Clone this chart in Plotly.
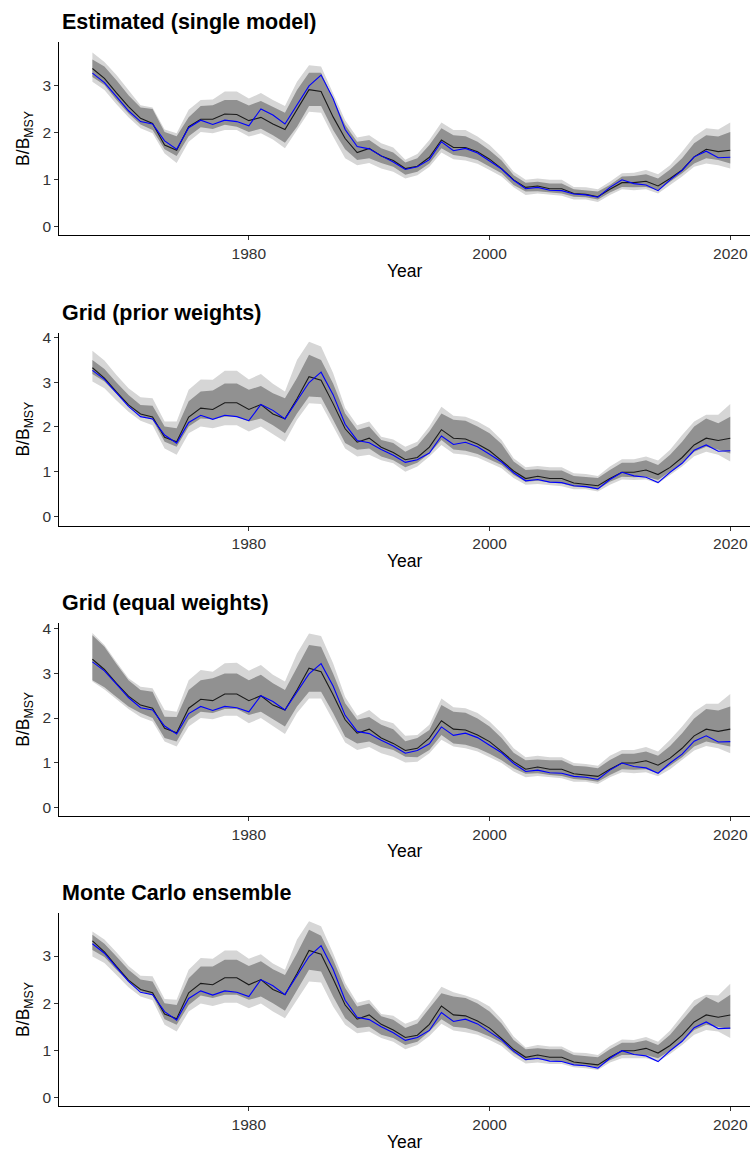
import plotly.graph_objects as go

years = list(range(1967, 2021))

# Blue line: estimated B/BMSY (same in every panel)
estimate = [3.26, 3.06, 2.76, 2.46, 2.23, 2.18, 1.82, 1.64, 2.10, 2.26, 2.17, 2.26, 2.23, 2.14, 2.50, 2.37, 2.18, 2.60, 2.99, 3.22,
            2.72, 2.06, 1.70, 1.65, 1.50, 1.37, 1.21, 1.27, 1.42, 1.80, 1.61, 1.66, 1.56, 1.39, 1.22, 0.98, 0.80, 0.83, 0.77, 0.76,
            0.69, 0.67, 0.62, 0.83, 0.99, 0.91, 0.88, 0.76, 0.99, 1.19, 1.48, 1.60, 1.46, 1.47]

# Panel 1: single model
single_median = [3.36, 3.15, 2.84, 2.55, 2.30, 2.19, 1.73, 1.62, 2.12, 2.28, 2.28, 2.39, 2.38, 2.25, 2.32, 2.18, 2.06, 2.49, 2.91, 2.87,
                 2.33, 1.87, 1.57, 1.66, 1.50, 1.40, 1.23, 1.28, 1.47, 1.84, 1.68, 1.68, 1.59, 1.43, 1.23, 0.99, 0.83, 0.86, 0.80, 0.80,
                 0.70, 0.68, 0.63, 0.79, 0.93, 0.93, 0.96, 0.86, 1.02, 1.20, 1.48, 1.64, 1.59, 1.62]
single_inner_hi = [3.55, 3.40, 3.11, 2.79, 2.53, 2.50, 2.01, 1.92, 2.32, 2.56, 2.58, 2.69, 2.69, 2.57, 2.67, 2.55, 2.42, 2.90, 3.27, 3.27,
                   2.72, 2.16, 1.80, 1.84, 1.66, 1.57, 1.36, 1.45, 1.73, 2.09, 1.94, 1.92, 1.80, 1.62, 1.40, 1.09, 0.93, 0.95, 0.91, 0.91,
                   0.79, 0.77, 0.74, 0.88, 1.06, 1.07, 1.11, 1.02, 1.21, 1.45, 1.77, 1.94, 1.91, 2.01]
single_inner_lo = [3.18, 3.01, 2.69, 2.40, 2.17, 2.05, 1.64, 1.50, 1.92, 2.11, 2.07, 2.16, 2.12, 2.01, 2.08, 1.94, 1.78, 2.12, 2.56, 2.56,
                   2.05, 1.64, 1.41, 1.45, 1.35, 1.27, 1.10, 1.16, 1.34, 1.66, 1.52, 1.48, 1.41, 1.27, 1.13, 0.88, 0.74, 0.75, 0.72, 0.70,
                   0.63, 0.62, 0.57, 0.72, 0.84, 0.83, 0.84, 0.77, 0.95, 1.13, 1.34, 1.45, 1.41, 1.34]
single_outer_hi = [3.70, 3.50, 3.22, 2.90, 2.58, 2.53, 2.06, 1.98, 2.48, 2.69, 2.70, 2.87, 2.87, 2.72, 2.84, 2.69, 2.56, 3.08, 3.43, 3.40,
                   2.83, 2.26, 1.89, 1.94, 1.77, 1.68, 1.42, 1.54, 1.84, 2.21, 2.05, 2.05, 1.91, 1.73, 1.48, 1.16, 0.99, 1.02, 0.99, 0.99,
                   0.84, 0.83, 0.79, 0.95, 1.13, 1.14, 1.20, 1.11, 1.30, 1.59, 1.91, 2.09, 2.06, 2.21]
single_outer_lo = [3.08, 2.90, 2.60, 2.32, 2.09, 1.98, 1.55, 1.35, 1.80, 2.01, 1.98, 2.05, 2.05, 1.91, 1.98, 1.85, 1.66, 2.05, 2.44, 2.42,
                   1.91, 1.45, 1.30, 1.35, 1.23, 1.16, 1.02, 1.09, 1.27, 1.57, 1.43, 1.40, 1.33, 1.20, 1.06, 0.83, 0.67, 0.70, 0.67, 0.65,
                   0.57, 0.57, 0.52, 0.67, 0.79, 0.77, 0.79, 0.70, 0.88, 1.06, 1.27, 1.34, 1.30, 1.23]

# Ensemble median (panels 2-4)
ensemble_median = [3.32, 3.09, 2.78, 2.49, 2.29, 2.22, 1.77, 1.67, 2.22, 2.42, 2.39, 2.54, 2.54, 2.39, 2.50, 2.29, 2.18, 2.63, 3.12, 3.04,
                   2.52, 1.96, 1.66, 1.75, 1.55, 1.43, 1.27, 1.32, 1.55, 1.94, 1.75, 1.73, 1.62, 1.47, 1.25, 1.02, 0.85, 0.90, 0.85, 0.85,
                   0.75, 0.72, 0.69, 0.85, 0.99, 0.99, 1.04, 0.94, 1.10, 1.32, 1.60, 1.75, 1.70, 1.75]

# Panel 2: grid, prior weights
prior_inner_hi = [3.49, 3.29, 2.99, 2.71, 2.49, 2.47, 2.01, 1.97, 2.57, 2.79, 2.81, 2.97, 2.97, 2.83, 2.91, 2.75, 2.64, 3.09, 3.61, 3.49,
                  2.97, 2.30, 1.93, 2.01, 1.71, 1.64, 1.45, 1.58, 1.90, 2.30, 2.16, 2.14, 2.01, 1.86, 1.62, 1.23, 1.04, 1.06, 1.03, 1.03,
                  0.91, 0.89, 0.86, 1.04, 1.20, 1.20, 1.26, 1.15, 1.38, 1.67, 2.01, 2.19, 2.08, 2.23]
prior_inner_lo = [3.18, 3.01, 2.74, 2.47, 2.25, 2.16, 1.67, 1.56, 2.01, 2.19, 2.17, 2.23, 2.23, 2.12, 2.19, 2.04, 1.86, 2.30, 2.68, 2.66,
                  2.16, 1.64, 1.49, 1.52, 1.34, 1.26, 1.10, 1.20, 1.41, 1.71, 1.50, 1.47, 1.40, 1.28, 1.15, 0.93, 0.78, 0.80, 0.76, 0.74,
                  0.67, 0.65, 0.61, 0.78, 0.89, 0.88, 0.89, 0.82, 1.00, 1.19, 1.45, 1.56, 1.49, 1.41]
prior_outer_hi = [3.70, 3.48, 3.16, 2.86, 2.66, 2.64, 2.12, 2.12, 2.83, 3.06, 3.05, 3.25, 3.25, 3.06, 3.18, 2.96, 2.79, 3.49, 3.90, 3.79,
                  3.20, 2.42, 2.04, 2.12, 1.78, 1.72, 1.56, 1.67, 2.01, 2.45, 2.25, 2.23, 2.12, 1.97, 1.71, 1.30, 1.10, 1.13, 1.10, 1.10,
                  0.97, 0.95, 0.91, 1.12, 1.28, 1.28, 1.34, 1.25, 1.49, 1.82, 2.12, 2.27, 2.27, 2.51]
prior_outer_lo = [3.01, 2.86, 2.59, 2.34, 2.14, 2.04, 1.52, 1.38, 1.86, 2.01, 1.97, 2.04, 2.04, 1.90, 2.01, 1.84, 1.67, 2.16, 2.53, 2.51,
                  2.01, 1.52, 1.34, 1.38, 1.26, 1.19, 1.00, 1.12, 1.34, 1.60, 1.41, 1.38, 1.32, 1.20, 1.08, 0.86, 0.71, 0.73, 0.71, 0.68,
                  0.61, 0.61, 0.56, 0.71, 0.83, 0.82, 0.83, 0.74, 0.93, 1.12, 1.35, 1.45, 1.38, 1.23]

# Panel 3: grid, equal weights
equal_inner_hi = [3.86, 3.60, 3.21, 2.85, 2.63, 2.59, 2.03, 2.02, 2.63, 2.85, 2.89, 3.00, 3.00, 2.85, 2.97, 2.78, 2.63, 3.15, 3.64, 3.60,
                  3.00, 2.33, 1.96, 2.02, 1.85, 1.75, 1.48, 1.55, 1.73, 2.29, 2.14, 2.12, 1.99, 1.81, 1.55, 1.22, 1.05, 1.07, 1.05, 1.05,
                  0.93, 0.91, 0.87, 1.06, 1.20, 1.20, 1.25, 1.15, 1.37, 1.66, 1.99, 2.20, 2.17, 2.26]
equal_inner_lo = [2.85, 2.69, 2.47, 2.26, 2.11, 2.00, 1.55, 1.47, 1.96, 2.14, 2.11, 2.20, 2.20, 2.07, 2.14, 1.97, 1.81, 2.26, 2.59, 2.59,
                  2.11, 1.58, 1.43, 1.47, 1.35, 1.28, 1.13, 1.12, 1.28, 1.62, 1.43, 1.40, 1.32, 1.20, 1.05, 0.87, 0.75, 0.76, 0.72, 0.70,
                  0.63, 0.61, 0.57, 0.72, 0.85, 0.84, 0.85, 0.76, 0.93, 1.12, 1.36, 1.47, 1.42, 1.36]
equal_outer_hi = [3.91, 3.64, 3.26, 2.89, 2.70, 2.67, 2.18, 2.14, 2.85, 3.08, 3.04, 3.23, 3.24, 3.06, 3.19, 2.97, 2.82, 3.45, 3.90, 3.84,
                  3.23, 2.47, 2.05, 2.18, 1.96, 1.88, 1.60, 1.62, 1.85, 2.44, 2.24, 2.22, 2.11, 1.92, 1.66, 1.32, 1.12, 1.15, 1.12, 1.12,
                  0.99, 0.97, 0.93, 1.15, 1.28, 1.28, 1.35, 1.25, 1.51, 1.81, 2.14, 2.32, 2.32, 2.54]
equal_outer_lo = [2.82, 2.64, 2.42, 2.20, 2.02, 1.92, 1.47, 1.36, 1.81, 2.00, 1.97, 2.05, 2.05, 1.88, 2.00, 1.81, 1.64, 2.11, 2.44, 2.44,
                  1.96, 1.45, 1.28, 1.35, 1.21, 1.13, 1.00, 1.02, 1.21, 1.51, 1.36, 1.32, 1.25, 1.12, 0.99, 0.80, 0.67, 0.70, 0.67, 0.65,
                  0.57, 0.57, 0.52, 0.67, 0.78, 0.76, 0.78, 0.69, 0.85, 1.05, 1.27, 1.37, 1.32, 1.21]

# Panel 4: Monte Carlo ensemble
mc_inner_hi = [3.45, 3.26, 2.99, 2.71, 2.50, 2.46, 2.00, 1.96, 2.53, 2.78, 2.78, 2.92, 2.92, 2.79, 2.89, 2.72, 2.60, 3.06, 3.56, 3.43,
               2.92, 2.32, 1.93, 1.99, 1.72, 1.65, 1.47, 1.57, 1.89, 2.21, 2.14, 2.11, 1.99, 1.82, 1.57, 1.22, 1.02, 1.04, 1.02, 1.02,
               0.90, 0.88, 0.85, 1.02, 1.16, 1.16, 1.21, 1.11, 1.33, 1.63, 1.93, 2.13, 2.01, 2.18]
mc_inner_lo = [3.13, 2.98, 2.71, 2.46, 2.25, 2.16, 1.66, 1.54, 1.96, 2.16, 2.11, 2.18, 2.18, 2.07, 2.14, 2.00, 1.84, 2.28, 2.71, 2.67,
               2.14, 1.68, 1.47, 1.50, 1.33, 1.26, 1.11, 1.18, 1.40, 1.66, 1.50, 1.47, 1.40, 1.29, 1.16, 0.94, 0.79, 0.81, 0.78, 0.76,
               0.69, 0.67, 0.64, 0.79, 0.90, 0.90, 0.90, 0.83, 0.99, 1.18, 1.43, 1.54, 1.50, 1.45]
mc_outer_hi = [3.52, 3.35, 3.08, 2.79, 2.58, 2.57, 2.09, 2.07, 2.71, 2.96, 2.94, 3.12, 3.12, 2.94, 3.04, 2.84, 2.71, 3.35, 3.74, 3.63,
               3.06, 2.43, 2.01, 2.07, 1.77, 1.73, 1.56, 1.66, 1.99, 2.35, 2.23, 2.16, 2.07, 1.93, 1.66, 1.29, 1.06, 1.11, 1.08, 1.08,
               0.95, 0.94, 0.90, 1.09, 1.23, 1.22, 1.28, 1.18, 1.42, 1.75, 2.06, 2.18, 2.16, 2.41]
mc_outer_lo = [2.99, 2.85, 2.60, 2.34, 2.14, 2.06, 1.54, 1.40, 1.82, 1.99, 1.94, 2.01, 2.01, 1.89, 1.99, 1.82, 1.68, 2.07, 2.46, 2.44,
               1.93, 1.54, 1.36, 1.40, 1.26, 1.18, 1.02, 1.11, 1.30, 1.56, 1.42, 1.38, 1.33, 1.22, 1.09, 0.87, 0.72, 0.74, 0.71, 0.71,
               0.64, 0.62, 0.58, 0.74, 0.83, 0.83, 0.83, 0.76, 0.92, 1.11, 1.33, 1.43, 1.40, 1.26]

panel_titles = ["Estimated (single model)", "Grid (prior weights)", "Grid (equal weights)", "Monte Carlo ensemble"]
x_ticks = [1980, 2000, 2020]

panels = [
    (single_median, single_inner_lo, single_inner_hi, single_outer_lo, single_outer_hi),
    (ensemble_median, prior_inner_lo, prior_inner_hi, prior_outer_lo, prior_outer_hi),
    (ensemble_median, equal_inner_lo, equal_inner_hi, equal_outer_lo, equal_outer_hi),
    (ensemble_median, mc_inner_lo, mc_inner_hi, mc_outer_lo, mc_outer_hi),
]

# layout (pixels)
W, H = 750, 1154
X_LEFT = 59.3
panel_px = [(41.7, 235.3), (332.7, 525.7), (622.7, 816.0), (912.7, 1106.3)]
y_ranges = [(-0.19, 3.93), (-0.20, 4.10), (-0.20, 4.14), (-0.19, 3.92)]
y_tickvals = [[0, 1, 2, 3], [0, 1, 2, 3, 4], [0, 1, 2, 3, 4], [0, 1, 2, 3]]

LIGHT = "#d6d6d6"
DARK = "#919191"
FONT = "Liberation Sans, Arial, Helvetica, sans-serif"
TICK_COL = "#333333"

fig = go.Figure()
layout = dict(
    width=W, height=H, margin=dict(l=0, r=0, t=0, b=0, autoexpand=False),
    paper_bgcolor="white", plot_bgcolor="white", showlegend=False,
    font=dict(family=FONT, color="black"),
)
annotations = []

for i, (med, ilo, ihi, olo, ohi) in enumerate(panels):
    n = i + 1
    xa = "x" if n == 1 else f"x{n}"
    ya = "y" if n == 1 else f"y{n}"
    # outer band
    fig.add_trace(go.Scatter(x=years, y=olo, xaxis=xa, yaxis=ya, mode="lines",
                             line=dict(width=0, color=LIGHT), hoverinfo="skip"))
    fig.add_trace(go.Scatter(x=years, y=ohi, xaxis=xa, yaxis=ya, mode="lines", fill="tonexty",
                             fillcolor=LIGHT, line=dict(width=0, color=LIGHT), hoverinfo="skip"))
    # inner band
    fig.add_trace(go.Scatter(x=years, y=ilo, xaxis=xa, yaxis=ya, mode="lines",
                             line=dict(width=0, color=DARK), hoverinfo="skip"))
    fig.add_trace(go.Scatter(x=years, y=ihi, xaxis=xa, yaxis=ya, mode="lines", fill="tonexty",
                             fillcolor=DARK, line=dict(width=0, color=DARK), hoverinfo="skip"))
    # median and estimate
    fig.add_trace(go.Scatter(x=years, y=med, xaxis=xa, yaxis=ya, mode="lines",
                             line=dict(width=1.1, color="#1a1a1a")))
    fig.add_trace(go.Scatter(x=years, y=estimate, xaxis=xa, yaxis=ya, mode="lines",
                             line=dict(width=1.1, color="#0000ff")))

    top, bot = panel_px[i]
    xkey = "xaxis" if n == 1 else f"xaxis{n}"
    ykey = "yaxis" if n == 1 else f"yaxis{n}"
    layout[xkey] = dict(
        domain=[X_LEFT / W, 1.0], range=[1964.25, 2021.64], anchor=ya, automargin=False,
        tickvals=x_ticks, ticks="outside", ticklen=4, tickwidth=1.1, tickcolor=TICK_COL,
        showline=True, linecolor="black", linewidth=1.1, showgrid=False, zeroline=False,
        tickfont=dict(size=15.5, color=TICK_COL, family=FONT),
        title=dict(text="Year", font=dict(size=17.5, color="black", family=FONT), standoff=3),
    )
    layout[ykey] = dict(
        domain=[1 - bot / H, 1 - top / H], range=list(y_ranges[i]), anchor=xa, automargin=False,
        tickvals=y_tickvals[i], ticks="outside", ticklen=4, tickwidth=1.1, tickcolor=TICK_COL,
        showline=True, linecolor="black", linewidth=1.1, showgrid=False, zeroline=False,
        tickfont=dict(size=15.5, color=TICK_COL, family=FONT),
        title=dict(text="B/B<sub>MSY</sub>", font=dict(size=17.5, color="black", family=FONT), standoff=8),
    )
    annotations.append(dict(
        text="<b>" + panel_titles[i] + "</b>", xref="paper", yref="paper",
        x=60 / W, y=1 - (top - 20) / H, xanchor="left", yanchor="middle", showarrow=False,
        font=dict(size=21.5, color="black", family=FONT),
    ))

layout["annotations"] = annotations
fig.update_layout(**layout)
fig.write_html(
    "out.html",
    config={"displayModeBar": False},
    post_script="document.body.style.margin='0px'; document.body.style.overflow='hidden';",
)
